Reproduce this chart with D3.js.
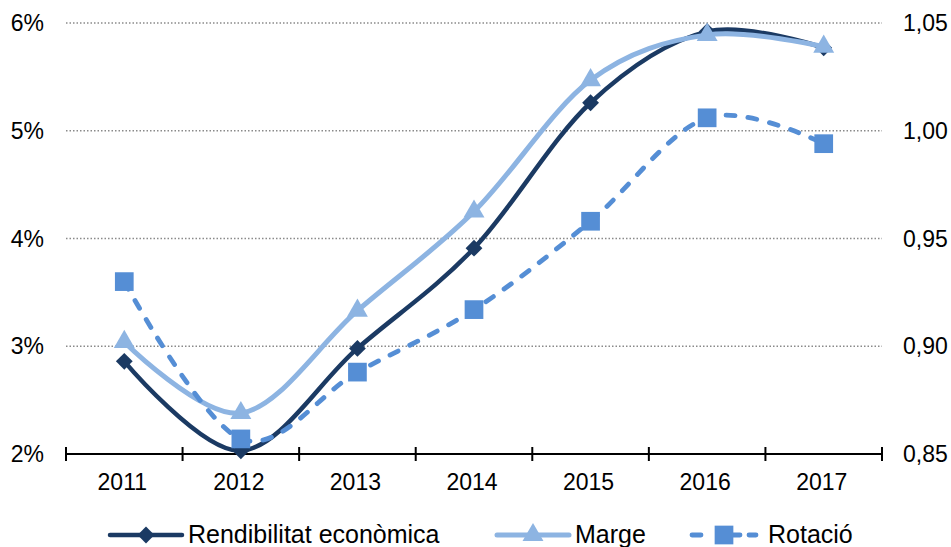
<!DOCTYPE html>
<html>
<head>
<meta charset="utf-8">
<script src="https://cdn.jsdelivr.net/npm/d3@7"></script>
<style>
  body { margin: 0; background: #fff; }
  text { font-family: "Liberation Sans", Arial, sans-serif; fill: #000; }
</style>
</head>
<body>
<div id="container"></div>
<script>
// Data
var years = ["2011", "2012", "2013", "2014", "2015", "2016", "2017"];
var rendibilitat = [0.0286, 0.0203, 0.0298, 0.0391, 0.0526, 0.0592, 0.0577];
var marge = [0.0304, 0.0238, 0.0333, 0.0425, 0.0547, 0.0589, 0.0578];
var rotacio = [0.930, 0.857, 0.888, 0.917, 0.958, 1.006, 0.994];
var leftTicks = [0.02, 0.03, 0.04, 0.05, 0.06];
var rightTicks = [0.85, 0.90, 0.95, 1.00, 1.05];

var width = 951,
    height = 547;

var svg = d3.select("#container")
            .append("svg")
              .attr("width", width)
              .attr("height", height);

// Scales
var x = d3.scaleBand()
          .domain(years)
          .range([66, 882])
          .padding(0);

var yLeft = d3.scaleLinear()
              .domain([0.02, 0.06])
              .range([454, 23]);

var yRight = d3.scaleLinear()
               .domain([0.85, 1.05])
               .range([454, 23]);

function cx(d, i) { return x(years[i]) + x.bandwidth() / 2; }

// Dotted gridlines
svg.selectAll("line.grid")
    .data(leftTicks.slice(1))
    .enter()
    .append("line")
      .attr("class", "grid")
      .attr("x1", 66)
      .attr("x2", 882)
      .attr("y1", function(d) { return yLeft(d); })
      .attr("y2", function(d) { return yLeft(d); })
      .attr("stroke", "#8a8a8a")
      .attr("stroke-width", 1.4)
      .attr("stroke-dasharray", "1.5,2");

// Left axis labels
svg.selectAll("text.left")
    .data(leftTicks)
    .enter()
    .append("text")
      .attr("class", "left")
      .attr("x", 44)
      .attr("y", function(d) { return yLeft(d) + 8; })
      .attr("text-anchor", "end")
      .style("font-size", "23px")
      .text(function(d) { return d3.format(".0%")(d); });

// Right axis labels
svg.selectAll("text.right")
    .data(rightTicks)
    .enter()
    .append("text")
      .attr("class", "right")
      .attr("x", 903)
      .attr("y", function(d) { return yRight(d) + 8; })
      .style("font-size", "23px")
      .text(function(d) { return d3.format(".2f")(d).replace(".", ","); });

// X axis line and ticks
svg.append("line")
    .attr("x1", x.range()[0])
    .attr("x2", x.range()[1])
    .attr("y1", 454)
    .attr("y2", 454)
    .attr("stroke", "#000")
    .attr("stroke-width", 2);

var edges = years.map(function(d) { return x(d); }).concat([x.range()[1]]);
svg.selectAll("line.tick")
    .data(edges)
    .enter()
    .append("line")
      .attr("class", "tick")
      .attr("x1", function(d) { return d; })
      .attr("x2", function(d) { return d; })
      .attr("y1", 447)
      .attr("y2", 461)
      .attr("stroke", "#000")
      .attr("stroke-width", 2);

svg.selectAll("text.year")
    .data(years)
    .enter()
    .append("text")
      .attr("class", "year")
      .attr("x", function(d) { return x(d) + x.bandwidth() / 2 - 2; })
      .attr("y", 490)
      .attr("text-anchor", "middle")
      .style("font-size", "23px")
      .text(function(d) { return d; });

// Series
var series = [
  { name: "Rendibilitat econòmica", values: rendibilitat, scale: yLeft, color: "#1b3a63", width: 4.5, dash: null, marker: "diamond" },
  { name: "Marge", values: marge, scale: yLeft, color: "#8db4e2", width: 5, dash: null, marker: "triangle" },
  { name: "Rotació", values: rotacio, scale: yRight, color: "#558ed5", width: 4.8, dash: "9,13", marker: "square" }
];

var symbols = {
  diamond: d3.symbol().type(d3.symbolDiamond2).size(180),
  triangle: d3.symbol().type(d3.symbolTriangle).size(190),
  square: d3.symbol().type(d3.symbolSquare).size(350)
};

series.forEach(function(s) {
  var line = d3.line()
               .x(function(d, i) { return cx(d, i); })
               .y(function(d) { return s.scale(d); })
               .curve(d3.curveCardinal.tension(0));

  svg.append("path")
      .datum(s.values)
      .attr("d", line)
      .attr("fill", "none")
      .attr("stroke", s.color)
      .attr("stroke-width", s.width)
      .attr("stroke-linecap", "round")
      .attr("stroke-dasharray", s.dash);

  svg.selectAll("path.m-" + s.marker)
      .data(s.values)
      .enter()
      .append("path")
        .attr("class", "m-" + s.marker)
        .attr("d", symbols[s.marker])
        .attr("transform", function(d, i) { return "translate(" + cx(d, i) + "," + s.scale(d) + ")"; })
        .attr("fill", s.color);
});

// Legend
var legend = [
  { x1: 110, x2: 182, tx: 188 },
  { x1: 497, x2: 569, tx: 575 },
  { x1: 692, x2: 756, tx: 768 }
];

series.forEach(function(s, i) {
  var l = legend[i];
  svg.append("line")
      .attr("x1", l.x1)
      .attr("x2", l.x2)
      .attr("y1", 535)
      .attr("y2", 535)
      .attr("stroke", s.color)
      .attr("stroke-width", s.width)
      .attr("stroke-linecap", "round")
      .attr("stroke-dasharray", s.dash ? "9,30,9" : null);

  svg.append("path")
      .attr("d", symbols[s.marker])
      .attr("transform", "translate(" + (l.x1 + l.x2) / 2 + ",535)")
      .attr("fill", s.color);

  svg.append("text")
      .attr("x", l.tx)
      .attr("y", 543)
      .style("font-size", "25px")
      .text(s.name);
});
</script>
</body>
</html>
